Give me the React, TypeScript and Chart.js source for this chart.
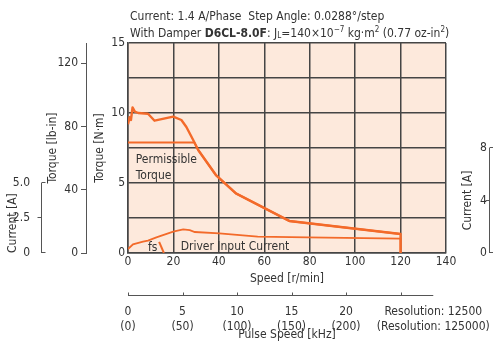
import React, { useEffect, useRef } from "react";
import { Chart, registerables } from "chart.js";

Chart.register(...registerables);

const FONT = "'Liberation Sans Narrow', 'DejaVu Sans Condensed', sans-serif";
const TEXT = "#333333";
const ORANGE = "#f36a2a";
const GRID = "#454545";
const PLOT_BG = "#fde9dc";

// ---- axis ticks ----
const speedTicks = [0, 20, 40, 60, 80, 100, 120, 140];
const torqueNmStep = 2.5;
const torqueLbInTicks = [0, 40, 80, 120];
const currentLeftTicks = [0, 2.5, 5];
const currentRightTicks = [0, 4, 8];
const pulseTicks = [0, 5, 10, 15, 20];
const pulseTicksLow = ["0", "5", "10", "15", "20"];
const pulseTicksHigh = ["(0)", "(50)", "(100)", "(150)", "(200)"];
const pulseMarkTicks = [0, 5, 10, 15, 20, 25];
const resolutionLabels = ["Resolution: 12500", "(Resolution: 125000)"];
const resolutionLabelKHz = 28;

// ---- unit relations ----
const LBIN_PER_NM = 8.851;
const KHZ_PER_RPM = 25 / 120;

// ---- series ----
const speedPullout = [0, 0.7, 1.3, 2.0, 3.0, 4.5, 8.8, 11.7, 19.9, 23.5, 25.7, 28.7, 30.9, 38.7, 47.5, 71, 120, 120];
const torquePullout = [9.2, 9.7, 9.5, 10.4, 10.1, 10.0, 9.95, 9.45, 9.74, 9.5, 9.0, 8.07, 7.36, 5.57, 4.26, 2.29, 1.36, 0];

const speedPermissible = [0, 29.2, 30.9, 38.7, 47.5, 71, 120];
const torquePermissible = [7.9, 7.9, 7.36, 5.57, 4.26, 2.29, 1.36];

const speedCurrent = [0, 2.2, 6.6, 8.8, 12.5, 19.9, 24.3, 27.2, 29.4, 40.2, 57.1, 79, 120, 120];
const driverCurrent = [0.28, 0.62, 0.81, 0.88, 1.12, 1.52, 1.69, 1.64, 1.5, 1.4, 1.17, 1.12, 1.02, 0];

const speedFs = [13.7, 15.8];
const torqueFs = [0.8, 0];

const pts = (xs: number[], ys: number[]) => xs.map((x, i) => ({ x, y: ys[i] }));

const font = (size = 12, extra: any = {}) => ({ family: FONT, size, ...extra });

const decorPlugin = {
  id: "decor",
  beforeDraw(chart: any) {
    const { ctx, chartArea: a } = chart;
    ctx.save();
    ctx.fillStyle = PLOT_BG;
    ctx.fillRect(a.left, a.top, a.right - a.left, a.bottom - a.top);
    ctx.restore();
  },
  afterDraw(chart: any) {
    const { ctx, scales } = chart;
    const x = scales.x;
    const y = scales.y;
    ctx.save();
    ctx.fillStyle = TEXT;
    ctx.strokeStyle = "#555555";
    ctx.lineWidth = 1;

    // header text
    const reg = `12px ${FONT}`;
    const bold = `bold 12px ${FONT}`;
    const small = `8px ${FONT}`;
    ctx.textBaseline = "alphabetic";
    ctx.textAlign = "left";
    ctx.font = reg;
    ctx.fillText("Current: 1.4 A/Phase  Step Angle: 0.0288°/step", 130, 20);
    const runs: Array<[string, string, number]> = [
      ["With Damper ", reg, 0],
      ["D6CL-8.0F", bold, 0],
      [": J", reg, 0],
      ["L", small, 1],
      ["=140×10", reg, 0],
      ["−7", small, -5],
      [" kg·m", reg, 0],
      ["2", small, -5],
      [" (0.77 oz-in", reg, 0],
      ["2", small, -5],
      [")", reg, 0],
    ];
    let cx = 130;
    for (const [t, f, dy] of runs) {
      ctx.font = f;
      ctx.fillText(t, cx, 37 + dy);
      cx += ctx.measureText(t).width;
    }

    // left current axis line (0..5 A)
    const yc = scales.yCur;
    const lx = Math.round(yc.right) - 0.5;
    ctx.beginPath();
    ctx.moveTo(lx, yc.getPixelForValue(5));
    ctx.lineTo(lx, yc.getPixelForValue(0));
    ctx.stroke();
    currentLeftTicks.forEach((v) => {
      const py = Math.round(yc.getPixelForValue(v)) - 0.5;
      ctx.beginPath();
      if (v === 2.5) {
        ctx.moveTo(lx - 4, py);
        ctx.lineTo(lx, py);
      } else {
        ctx.moveTo(lx, py);
        ctx.lineTo(lx + 4, py);
      }
      ctx.stroke();
    });

    // right current axis line (0..8 A)
    const yr = scales.yR;
    const rx = 489.5;
    ctx.beginPath();
    ctx.moveTo(rx, yr.getPixelForValue(8));
    ctx.lineTo(rx, yr.getPixelForValue(0));
    ctx.stroke();
    currentRightTicks.forEach((v) => {
      const py = Math.round(yr.getPixelForValue(v)) - 0.5;
      ctx.beginPath();
      if (v === 4) {
        ctx.moveTo(rx - 4, py);
        ctx.lineTo(rx, py);
      } else {
        ctx.moveTo(rx, py);
        ctx.lineTo(rx + 4, py);
      }
      ctx.stroke();
    });
    ctx.save();
    ctx.font = reg;
    ctx.textAlign = "center";
    ctx.textBaseline = "middle";
    ctx.translate(468, (yr.getPixelForValue(0) + yr.getPixelForValue(8)) / 2);
    ctx.rotate(-Math.PI / 2);
    ctx.fillText("Current [A]", 0, 0);
    ctx.restore();

    // pulse speed axis line and marks
    const p = scales.pulse;
    const py = Math.round(p.top) + 0.5;
    ctx.beginPath();
    ctx.moveTo(p.getPixelForValue(0), py);
    ctx.lineTo(p.getPixelForValue(resolutionLabelKHz), py);
    ctx.stroke();
    pulseMarkTicks.forEach((v) => {
      const px = Math.round(p.getPixelForValue(v)) + 0.5;
      ctx.beginPath();
      ctx.moveTo(px, py);
      ctx.lineTo(px, py - 3);
      ctx.stroke();
    });

    // annotations inside the plot
    ctx.font = reg;
    ctx.textAlign = "left";
    ctx.textBaseline = "middle";
    ctx.fillStyle = TEXT;
    ctx.fillText("Permissible", x.getPixelForValue(3.4), y.getPixelForValue(6.64));
    ctx.fillText("Torque", x.getPixelForValue(3.4), y.getPixelForValue(5.5));
    ctx.fillText("fs", x.getPixelForValue(8.8), y.getPixelForValue(0.36));
    ctx.fillText("Driver Input Current", x.getPixelForValue(23.2), y.getPixelForValue(0.43));
    ctx.restore();
  },
};

export default function App() {
  const ref = useRef<HTMLCanvasElement | null>(null);

  useEffect(() => {
    if (!ref.current) return;
    const chart = new Chart(ref.current, {
      type: "line",
      data: {
        datasets: [
          {
            label: "Pullout torque",
            data: pts(speedPullout, torquePullout),
            borderColor: ORANGE,
            borderWidth: 2.4,
            pointRadius: 0,
            tension: 0,
            xAxisID: "x",
            yAxisID: "y",
            borderJoinStyle: "round",
          },
          {
            label: "Permissible torque",
            data: pts(speedPermissible, torquePermissible),
            borderColor: ORANGE,
            borderWidth: 2,
            pointRadius: 0,
            tension: 0,
            xAxisID: "x",
            yAxisID: "y",
          },
          {
            label: "Driver input current",
            data: pts(speedCurrent, driverCurrent),
            borderColor: ORANGE,
            borderWidth: 1.8,
            pointRadius: 0,
            tension: 0,
            xAxisID: "x",
            yAxisID: "yCur",
          },
          {
            label: "fs",
            data: pts(speedFs, torqueFs),
            borderColor: ORANGE,
            borderWidth: 2,
            pointRadius: 0,
            tension: 0,
            xAxisID: "x",
            yAxisID: "y",
          },
        ],
      },
      options: {
        responsive: false,
        animation: false,
        devicePixelRatio: 1,
        layout: { padding: { top: 43, left: 0, right: 0, bottom: 0 } },
        plugins: { legend: { display: false }, tooltip: { enabled: false } },
        scales: {
          x: {
            type: "linear",
            position: "bottom",
            weight: 0,
            min: 0,
            max: 140,
            afterBuildTicks: (s: any) => {
              s.ticks = speedTicks.map((v) => ({ value: v }));
            },
            afterFit: (s: any) => {
              s.height = 42;
            },
            ticks: {
              autoSkip: false,
              maxRotation: 0,
              padding: 2,
              color: TEXT,
              font: font(12),
              callback: (v: any) => String(v),
            },
            grid: { color: GRID, lineWidth: 1.5, drawTicks: false },
            border: { color: GRID, width: 1.5 },
            title: {
              display: true,
              text: "Speed [r/min]",
              color: TEXT,
              font: font(12),
              padding: { top: 0, bottom: 9 },
            },
          },
          pulse: {
            type: "linear",
            position: "bottom",
            weight: 1,
            min: 0,
            max: 140 * KHZ_PER_RPM,
            afterBuildTicks: (s: any) => {
              s.ticks = [...pulseTicks, resolutionLabelKHz].map((v) => ({ value: v }));
            },
            afterFit: (s: any) => {
              s.height = 48;
              s.paddingLeft = 0;
              s.paddingRight = 0;
            },
            ticks: {
              autoSkip: false,
              maxRotation: 0,
              padding: 1,
              color: TEXT,
              font: font(12, { lineHeight: 1.25 }),
              callback: (v: any) => {
                const i = pulseTicks.indexOf(v);
                return i >= 0 ? [pulseTicksLow[i], pulseTicksHigh[i]] : resolutionLabels;
              },
            },
            grid: { display: false, drawOnChartArea: false },
            border: { display: false },
            title: {
              display: true,
              text: "Pulse Speed [kHz]",
              color: TEXT,
              font: font(12),
              padding: { top: 0, bottom: 1 },
            },
          },
          y: {
            type: "linear",
            position: "left",
            weight: 0,
            min: 0,
            max: 15,
            ticks: {
              stepSize: torqueNmStep,
              padding: 3,
              color: TEXT,
              font: font(12),
              callback: (v: any) => (v % 5 === 0 ? String(v) : ""),
            },
            afterFit: (s: any) => {
              s.width = 42;
            },
            grid: { color: GRID, lineWidth: 1.5, drawTicks: false },
            border: { color: GRID, width: 1.5 },
            title: {
              display: true,
              text: "Torque [N·m]",
              color: TEXT,
              font: font(12),
              padding: { top: 7, bottom: 0 },
            },
          },
          yLb: {
            type: "linear",
            position: "left",
            weight: 1,
            min: 0,
            max: 15 * LBIN_PER_NM,
            afterBuildTicks: (s: any) => {
              s.ticks = torqueLbInTicks.map((v) => ({ value: v }));
            },
            afterFit: (s: any) => {
              s.width = 44;
            },
            ticks: { padding: 3, color: TEXT, font: font(12), callback: (v: any) => String(v) },
            grid: { drawOnChartArea: false, tickLength: 5, color: "#555555", lineWidth: 1 },
            border: { color: "#555555", width: 1 },
            title: {
              display: true,
              text: "Torque [lb-in]",
              color: TEXT,
              font: font(12),
              padding: { top: 4, bottom: 0 },
            },
          },
          yCur: {
            type: "linear",
            position: "left",
            weight: 2,
            min: 0,
            max: 15,
            afterBuildTicks: (s: any) => {
              s.ticks = currentLeftTicks.map((v) => ({ value: v }));
            },
            afterFit: (s: any) => {
              s.width = 42;
            },
            ticks: {
              padding: 4,
              color: TEXT,
              font: font(12),
              callback: (v: any) => (v === 0 ? "0" : Number(v).toFixed(1)),
            },
            grid: { display: false },
            border: { display: false },
            title: {
              display: true,
              text: "Current [A]",
              align: "start",
              color: TEXT,
              font: font(12),
              padding: { top: 6, bottom: 0 },
            },
          },
          yR: {
            type: "linear",
            position: "right",
            min: 0,
            max: 16,
            afterBuildTicks: (s: any) => {
              s.ticks = currentRightTicks.map((v) => ({ value: v }));
            },
            afterFit: (s: any) => {
              s.width = 47;
            },
            ticks: { padding: 26, color: TEXT, font: font(12), callback: (v: any) => String(v) },
            grid: { display: false },
            border: { display: false },
          },
        },
      },
      plugins: [decorPlugin],
    } as any);
    return () => chart.destroy();
  }, []);

  return (
    <div style={{ position: "fixed", left: 0, top: 0, width: 493, height: 343, background: "#ffffff" }}>
      <canvas ref={ref} width={493} height={343} style={{ display: "block" }} />
    </div>
  );
}
